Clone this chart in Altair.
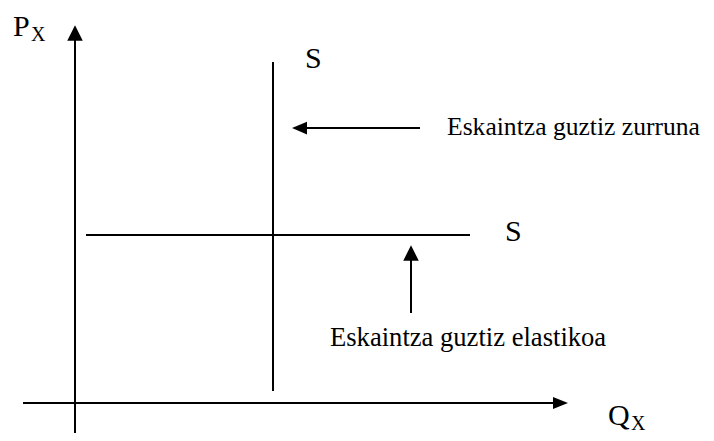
import altair as alt
import pandas as pd

# Coordinate system: Q (quantity) horizontal, P (price) vertical, origin at the axes crossing.
# Line segments of the diagram (axes, the two supply curves, arrow shafts)
seg_name = ["P axis", "Q axis", "S vertical", "S horizontal", "arrow zurruna", "arrow elastikoa"]
seg_q1 = [0, -52, 198, 11, 230, 336]
seg_q2 = [0, 480, 198, 395, 345, 336]
seg_p1 = [-30, 0, 12, 168, 275, 90]
seg_p2 = [365, 0, 341, 168, 275, 145]

# Arrow heads (tips located at the end of shafts)
up_q = [0, 336]
up_p = [370, 150]
right_q = [485.5]
right_p = [0]
left_q = [224.5]
left_p = [275]

# Labels
lab_text = ["P", "X", "S", "S", "Eskaintza guztiz zurruna", "Eskaintza guztiz elastikoa", "Q", "X"]
lab_q = [-62, -44, 230, 430, 372, 255, 533, 556]
lab_p = [367, 362, 335, 162, 268, 57, -22, -27]
lab_size = [30, 20, 30, 30, 25.6, 26.6, 30, 20]

XD = [-67, 631]
YD = [-30, 395]

xs = alt.Scale(domain=XD, nice=False, zero=False)
ys = alt.Scale(domain=YD, nice=False, zero=False)

segs = pd.DataFrame({"name": seg_name, "q1": seg_q1, "q2": seg_q2, "p1": seg_p1, "p2": seg_p2})
ups = pd.DataFrame({"q": up_q, "p": up_p})
rights = pd.DataFrame({"q": right_q, "p": right_p})
lefts = pd.DataFrame({"q": left_q, "p": left_p})
labels = pd.DataFrame({"t": lab_text, "q": lab_q, "p": lab_p, "s": lab_size})

lines = alt.Chart(segs).mark_rule(color="black", strokeWidth=2).encode(
    x=alt.X("q1:Q", scale=xs, axis=None),
    x2="q2:Q",
    y=alt.Y("p1:Q", scale=ys, axis=None),
    y2="p2:Q",
)

def head(df, path, size):
    return alt.Chart(df).mark_point(
        shape=path, filled=True, color="black", opacity=1, size=size, strokeWidth=0
    ).encode(
        x=alt.X("q:Q", scale=xs, axis=None),
        y=alt.Y("p:Q", scale=ys, axis=None),
    )

up_heads = head(ups, "M0,-1L1,1L-1,1Z", 240)
right_heads = head(rights, "M1,0L-1,-0.8L-1,0.8Z", 225)
left_heads = head(lefts, "M-1,0L1,-0.85L1,0.85Z", 225)

texts = alt.Chart(labels).mark_text(
    font="Liberation Serif", align="left", baseline="alphabetic", color="black"
).encode(
    x=alt.X("q:Q", scale=xs, axis=None),
    y=alt.Y("p:Q", scale=ys, axis=None),
    text="t:N",
    size=alt.Size("s:Q", scale=None),
)

chart = alt.layer(lines, up_heads, right_heads, left_heads, texts).properties(
    width=698, height=425, padding=0, autosize="none", background="white"
).configure_view(stroke=None)

chart.save("out.html", embed_options={"renderer": "svg", "actions": False})
